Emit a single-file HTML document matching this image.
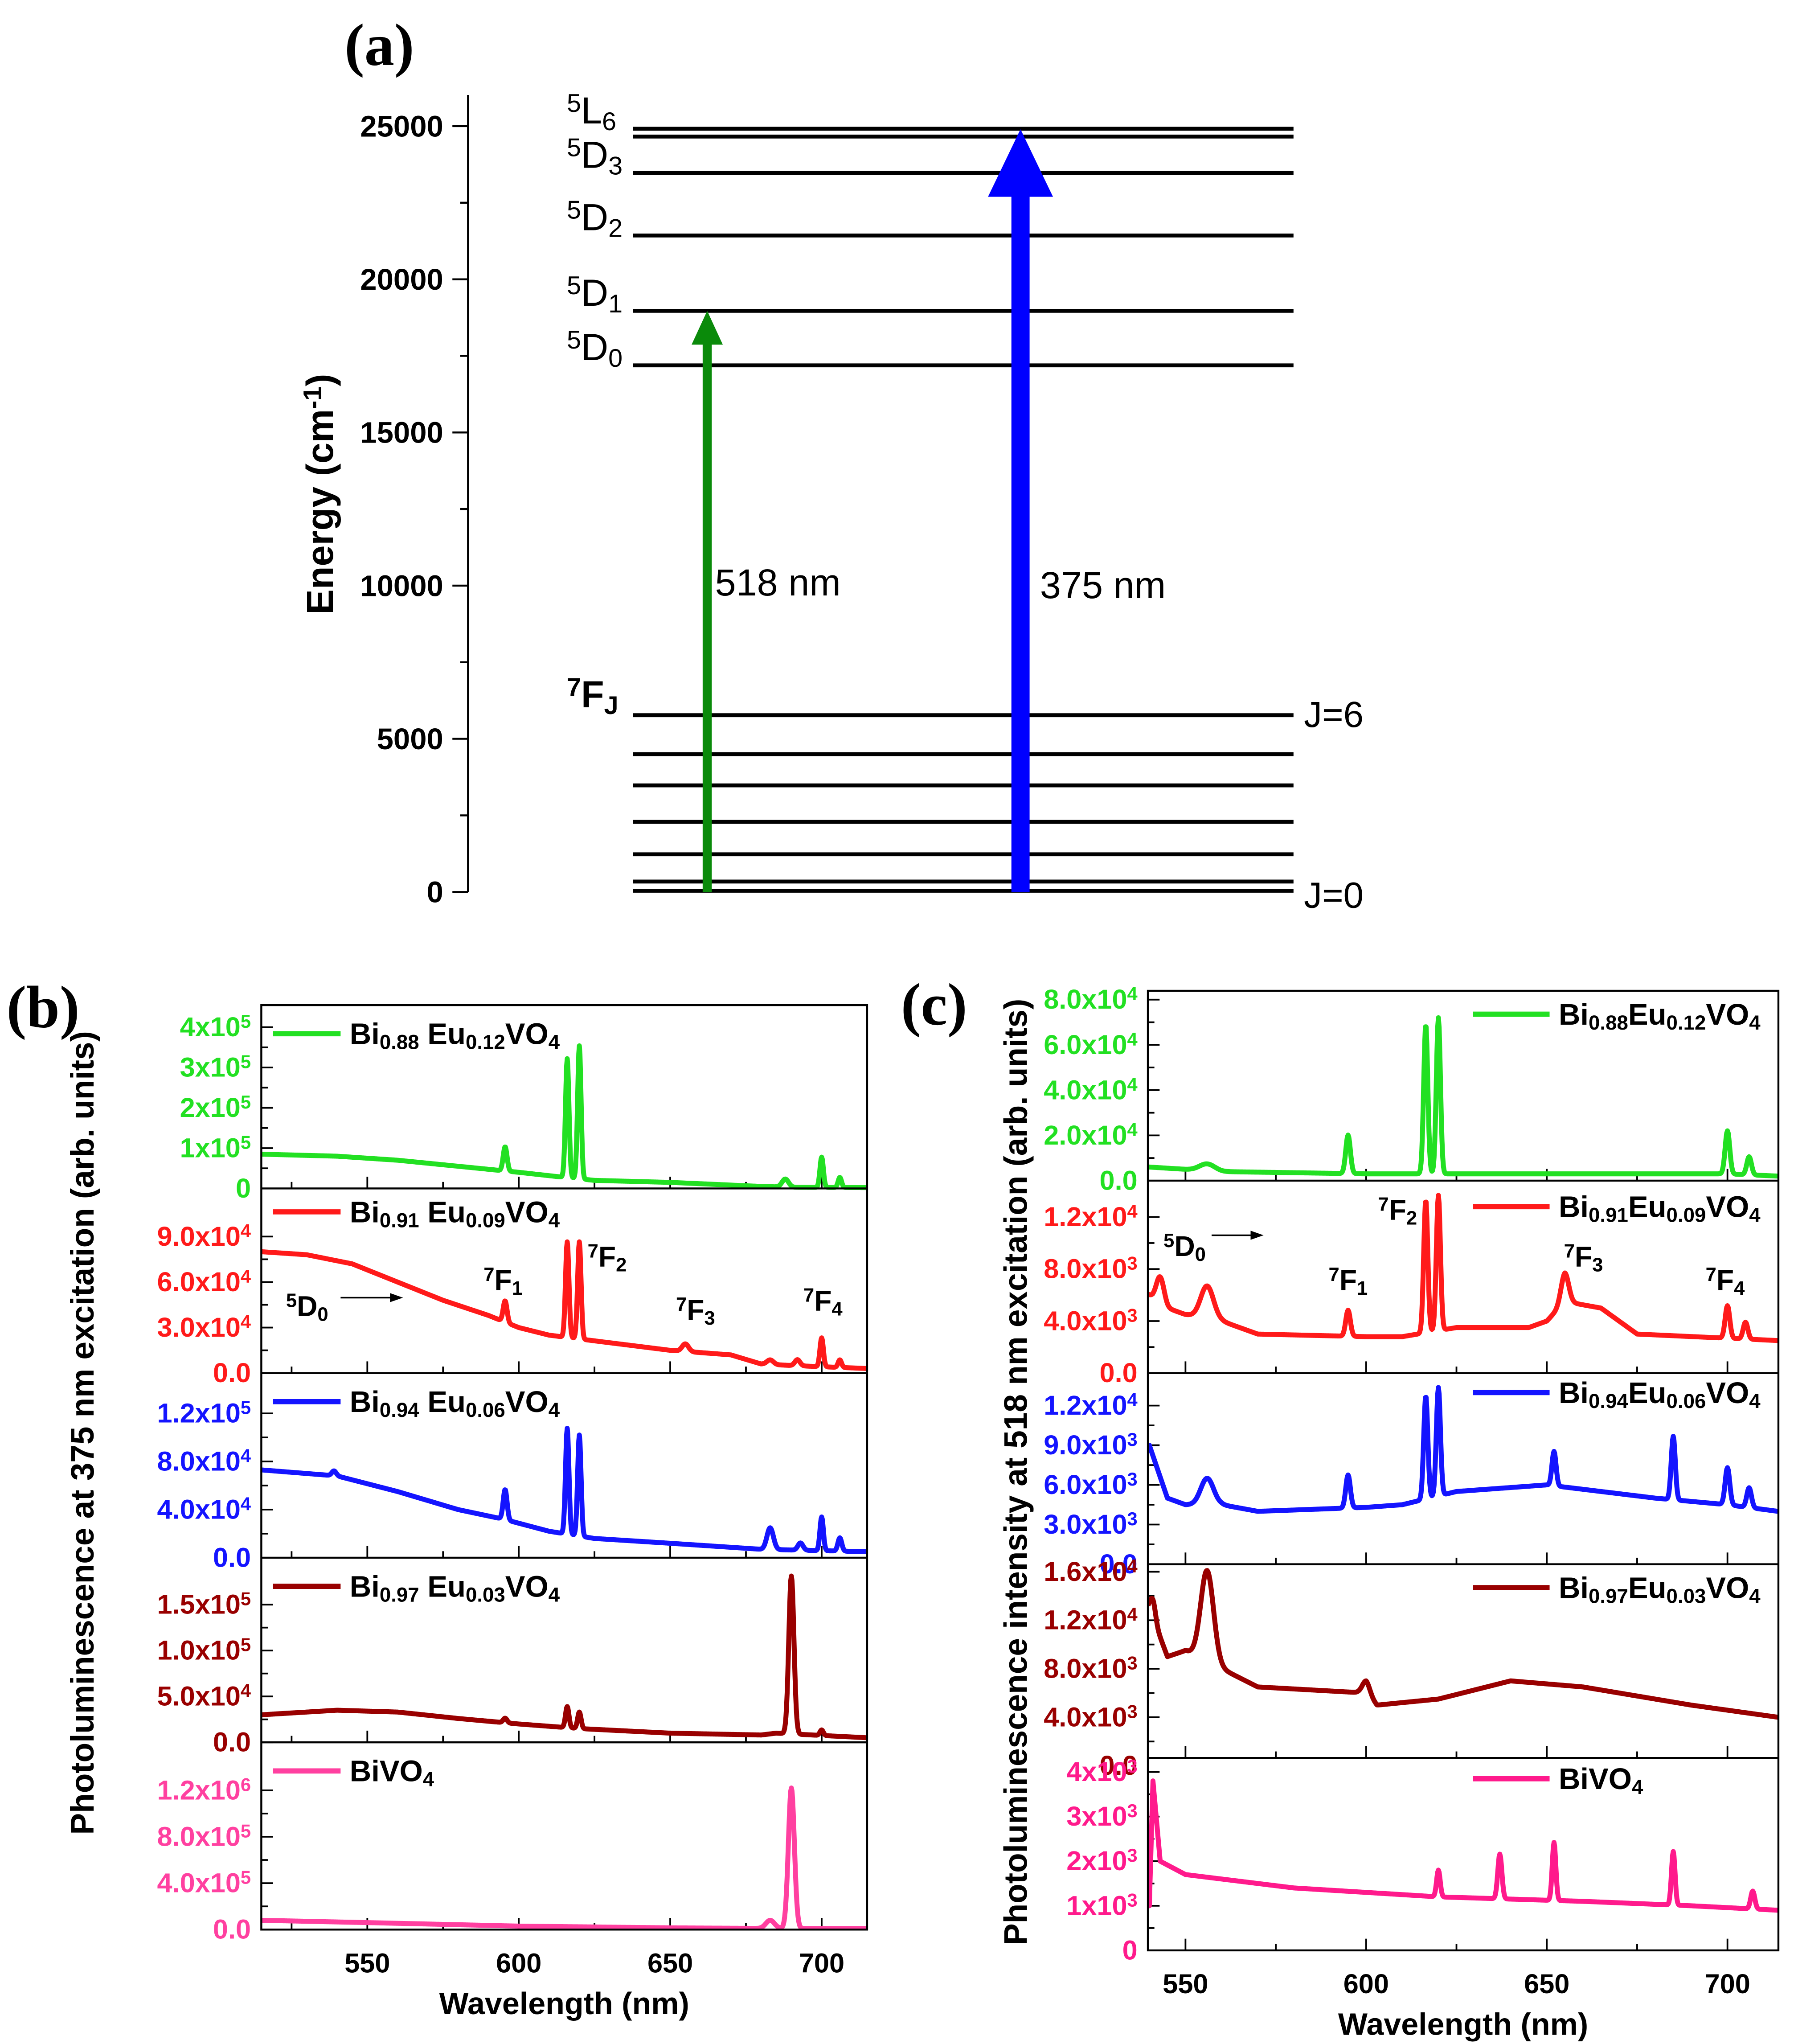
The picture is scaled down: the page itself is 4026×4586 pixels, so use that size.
<!DOCTYPE html>
<html><head><meta charset="utf-8"><style>
html,body{margin:0;padding:0;background:#fff}
svg{display:block}
text{font-family:"Liberation Sans",sans-serif}
</style></head><body>
<svg id="fig" xmlns="http://www.w3.org/2000/svg" width="4026" height="4586" viewBox="0 0 1380 1572" preserveAspectRatio="none">
<rect width="1380" height="1572" fill="#fff"/>
<g id="pa"></g>
<g id="pb"></g>
<g id="pc"></g>
</svg>
<script>
// ---------- Panel (a) data ----------
const aTicks = [0, 5000, 10000, 15000, 20000, 25000];
const aUpperLevels = [24915, 24660, 23470, 21430, 18970, 17190];
const aUpperLabels = [["5","L","6"], null, ["5","D","3"], ["5","D","2"], ["5","D","1"], ["5","D","0"]];
const aLowerLevels = [5770, 4500, 3480, 2290, 1230, 340, 40];
const aGreenArrow = [0, 18970];
const aBlueArrow = [0, 24900];

// ---------- Panel (b) data (375 nm excitation) ----------
const bGreenBaseX = [515, 540, 560, 580, 600, 612, 625, 650, 680, 690, 715];
const bGreenBaseY = [85000, 80000, 70000, 55000, 40000, 30000, 20000, 15000, 5000, 3000, 2000];
const bGreenPeakC = [595.5, 616, 620, 688, 700, 706];
const bGreenPeakH = [60000, 295000, 330000, 20000, 75000, 25000];
const bGreenPeakW = [0.9, 0.8, 0.8, 1.5, 0.8, 0.8];

const bRedBaseX = [515, 530, 545, 560, 575, 590, 600, 610, 630, 650, 670, 680, 690, 715];
const bRedBaseY = [80000, 78000, 72000, 60000, 48000, 38000, 30000, 25000, 20000, 15000, 12000, 6000, 5000, 3000];
const bRedPeakC = [595.5, 616, 620, 655, 683, 692, 700, 706];
const bRedPeakH = [14000, 63000, 64000, 5000, 3000, 4000, 19000, 5000];
const bRedPeakW = [0.9, 0.8, 0.8, 1.5, 1.5, 1.2, 0.8, 0.8];

const bBlueBaseX = [515, 540, 560, 580, 595, 610, 625, 650, 680, 715];
const bBlueBaseY = [73000, 68000, 55000, 40000, 32000, 22000, 16000, 12000, 7000, 5000];
const bBluePeakC = [539, 595.5, 616, 620, 683, 693, 700, 706];
const bBluePeakH = [4000, 25000, 88000, 84000, 18000, 6000, 28000, 11000];
const bBluePeakW = [1, 0.9, 0.8, 0.8, 1.5, 1.2, 0.8, 0.9];

const bDarkBaseX = [515, 540, 560, 580, 600, 620, 650, 680, 685, 715];
const bDarkBaseY = [30000, 35000, 33000, 26000, 20000, 15000, 10000, 8000, 10000, 5000];
const bDarkPeakC = [595.5, 616, 620, 690, 700];
const bDarkPeakH = [5000, 23000, 18000, 172000, 6000];
const bDarkPeakW = [0.9, 0.8, 0.8, 1.2, 0.8];

const bPinkBaseX = [515, 550, 600, 650, 680, 715];
const bPinkBaseY = [80000, 60000, 30000, 15000, 10000, 10000];
const bPinkPeakC = [683, 690];
const bPinkPeakH = [70000, 1210000];
const bPinkPeakW = [2, 1.4];

// ---------- Panel (c) data (518 nm excitation) ----------
const cGreenBaseX = [540, 560, 600, 650, 700, 714];
const cGreenBaseY = [6000, 4000, 3000, 3000, 3000, 2000];
const cGreenPeakC = [556, 595, 616.5, 620, 700, 706];
const cGreenPeakH = [3000, 17000, 66000, 69000, 19000, 8000];
const cGreenPeakW = [3, 0.9, 0.8, 0.8, 0.9, 0.9];

const cRedBaseX = [540, 545, 550, 560, 570, 600, 610, 625, 645, 650, 655, 665, 675, 714];
const cRedBaseY = [6000, 5000, 4500, 4000, 3000, 2800, 2800, 3500, 3500, 4000, 5500, 5000, 3000, 2500];
const cRedPeakC = [543, 556, 595, 616.5, 620, 655, 700, 705];
const cRedPeakH = [2000, 2500, 2000, 10200, 10400, 2200, 2500, 1300];
const cRedPeakW = [1.5, 2.5, 0.9, 0.8, 0.8, 1.5, 0.9, 0.9];

const cBlueBaseX = [540, 545, 550, 560, 570, 600, 610, 625, 650, 680, 700, 714];
const cBlueBaseY = [9000, 5000, 4500, 4500, 4000, 4300, 4500, 5500, 6000, 5000, 4500, 4000];
const cBluePeakC = [556, 595, 616.5, 620, 652, 685, 700, 706];
const cBluePeakH = [2000, 2500, 7800, 8200, 2600, 4800, 2800, 1500];
const cBluePeakW = [2.5, 0.9, 0.8, 0.8, 0.8, 0.8, 0.9, 0.9];

const cDarkBaseX = [540, 545, 550, 560, 570, 600, 603, 620, 640, 660, 690, 714];
const cDarkBaseY = [13000, 9000, 9500, 8000, 6500, 6000, 5000, 5500, 7000, 6500, 5000, 4000];
const cDarkPeakC = [541, 556, 600];
const cDarkPeakH = [1500, 7500, 1000];
const cDarkPeakW = [1, 2.5, 1.5];

const cPinkBaseX = [540, 541, 543, 550, 580, 620, 660, 690, 714];
const cPinkBaseY = [1000, 3800, 2000, 1700, 1400, 1200, 1100, 1000, 900];
const cPinkPeakC = [620, 637, 652, 685, 707];
const cPinkPeakH = [600, 1000, 1300, 1200, 400];
const cPinkPeakW = [0.7, 0.8, 0.7, 0.7, 0.8];

// ---------- helpers ----------
const NS = "http://www.w3.org/2000/svg";
function mk(parent, tag, attrs) {
  const e = document.createElementNS(NS, tag);
  for (const k in attrs) e.setAttribute(k, attrs[k]);
  parent.appendChild(e);
  return e;
}
function interp(xs, ys, x) {
  if (x <= xs[0]) return ys[0];
  for (let i = 1; i < xs.length; i++) {
    if (x <= xs[i]) { const t = (x - xs[i-1]) / (xs[i] - xs[i-1]); return ys[i-1] + t * (ys[i] - ys[i-1]); }
  }
  return ys[ys.length - 1];
}
function spectrum(bx, by, pc, ph, pw, x) {
  let v = interp(bx, by, x);
  for (let i = 0; i < pc.length; i++) v += ph[i] * Math.exp(-Math.pow((x - pc[i]) / pw[i], 2));
  return v;
}
function rich(parent, x, y, parts, size, fill, anchor) {
  const t = mk(parent, "text", {x: x, y: y, "font-size": size, "font-weight": "bold", fill: fill, "text-anchor": anchor || "start"});
  parts.forEach(p => {
    const s = mk(t, "tspan", {});
    if (p[1] === "sub") { s.setAttribute("font-size", size * 0.68); s.setAttribute("baseline-shift", "-25%"); }
    if (p[1] === "sup") { s.setAttribute("font-size", size * 0.68); s.setAttribute("baseline-shift", "45%"); }
    s.textContent = p[0];
  });
  return t;
}

// ---------- Panel (a) ----------
(function () {
  const g = document.getElementById("pa");
  const ey = E => 686 - E * (589 / 25000);
  const lab = mk(g, "text", {x: 265, y: 50, "font-size": 46, "font-weight": "bold", fill: "#000", style: "font-family:'Liberation Serif',serif"});
  
  
  lab.textContent = "(a)";
  const ax = mk(g, "line", {x1: 360, y1: 73, x2: 360, y2: 686, stroke: "#000", "stroke-width": 1.5});
  
  
  aTicks.forEach((v, i) => {
    const y = ey(v);
    mk(g, "line", {x1: 348, y1: y, x2: 360, y2: y, stroke: "#000", "stroke-width": 1.5});
    if (i < aTicks.length - 1) { const ym = ey(v + 2500); mk(g, "line", {x1: 354, y1: ym, x2: 360, y2: ym, stroke: "#000", "stroke-width": 1.5}); }
    const t = mk(g, "text", {x: 341, y: y + 8, "font-size": 23, "font-weight": "bold", "text-anchor": "end", fill: "#000"});
    
    
    t.textContent = String(v);
  });
  const yt = rich(g, 0, 0, [["Energy (cm", "n"], ["-1", "sup"], [")", "n"]], 29, "#000", "middle");
  yt.setAttribute("transform", "translate(256,380) rotate(-90)");
  
  
  aUpperLevels.forEach((E, i) => {
    const y = ey(E);
    const l = mk(g, "line", {x1: 487, y1: y, x2: 995, y2: y, stroke: "#000", "stroke-width": 3});
    
    
    const L = aUpperLabels[i];
    if (L) {
      const t = rich(g, 436, y - 4, [[L[0], "sup"], [L[1], "n"], [L[2], "sub"]], 29, "#000");
      t.setAttribute("font-weight", "normal");
      
      
    }
  });
  aLowerLevels.forEach(E => {
    const y = ey(E);
    const l = mk(g, "line", {x1: 487, y1: y, x2: 995, y2: y, stroke: "#000", "stroke-width": 3});
    
    
  });
  const fj = rich(g, 436, ey(aLowerLevels[0]) - 6, [["7", "sup"], ["F", "n"], ["J", "sub"]], 29, "#000");
  
  
  const j6 = mk(g, "text", {x: 1003, y: ey(aLowerLevels[0]) + 9, "font-size": 28, fill: "#000"});
    j6.textContent = "J=6";
  const j0 = mk(g, "text", {x: 1003, y: ey(0) + 12, "font-size": 28, fill: "#000"});
    j0.textContent = "J=0";
  const gy0 = ey(aGreenArrow[0]), gy1 = ey(aGreenArrow[1]);
  const ga = mk(g, "g", {});
   
  mk(ga, "rect", {x: 540.5, y: gy1 + 22, width: 7, height: gy0 - gy1 - 22, fill: "#0a8a0a"});
  mk(ga, "polygon", {points: `532,${gy1 + 26} 556,${gy1 + 26} 544,${gy1}`, fill: "#0a8a0a"});
  const gt = mk(g, "text", {x: 550, y: 458, "font-size": 29, fill: "#000"});
    gt.textContent = "518 nm";
  const by0 = ey(aBlueArrow[0]), by1 = ey(aBlueArrow[1]);
  const ba = mk(g, "g", {});
   
  mk(ba, "rect", {x: 778, y: by1 + 45, width: 14, height: by0 - by1 - 45, fill: "#0000ff"});
  mk(ba, "polygon", {points: `760,${by1 + 52} 810,${by1 + 52} 785,${by1}`, fill: "#0000ff"});
  const bt = mk(g, "text", {x: 800, y: 460, "font-size": 29, fill: "#000"});
    bt.textContent = "375 nm";
})();

function fmtParts(l) { return l[1] === null ? [[l[0], "n"]] : [[l[0] + "x10", "n"], [l[1], "sup"]]; }

function drawStack(gid, P) {
  const g = document.getElementById(gid);
  const X = w => P.x0 + (w - P.wl0) / (P.wl1 - P.wl0) * (P.x1 - P.x0);
  const pl = mk(g, "text", {x: P.labX, y: P.labY, "font-size": 46, "font-weight": "bold", fill: "#000", style: "font-family:'Liberation Serif',serif"});
    pl.textContent = P.label;
  const clip = mk(g, "clipPath", {id: gid + "clip"});
  mk(clip, "rect", {x: P.x0, y: P.tops[0], width: P.x1 - P.x0, height: P.tops[P.tops.length - 1] - P.tops[0]});
  P.subs.forEach((S, k) => {
    const top = P.tops[k], bot = P.tops[k + 1];
    const sg = mk(g, "g", {});
    
    
    const Y = v => S.y0 - v * S.scale;
    for (let w = Math.ceil(P.wl0 / 25) * 25; w <= P.wl1; w += 25) {
      const len = (w % 50 === 0) ? 9 : 5;
      mk(sg, "line", {x1: X(w), y1: bot, x2: X(w), y2: bot - len, stroke: "#000", "stroke-width": 1.3});
    }
    S.ticks.forEach((v, i) => {
      const y = Y(v);
      if (y >= top - 1 && y <= bot + 1) mk(sg, "line", {x1: P.x0, y1: y, x2: P.x0 + 9, y2: y, stroke: "#000", "stroke-width": 1.3});
      if (i < S.ticks.length - 1) {
        const ym = Y((v + S.ticks[i + 1]) / 2);
        if (ym >= top && ym <= bot) mk(sg, "line", {x1: P.x0, y1: ym, x2: P.x0 + 5, y2: ym, stroke: "#000", "stroke-width": 1.3});
      }
      const t = rich(sg, P.x0 - 8, y + 7, fmtParts(S.labels[i]), 21, S.color, "end");
      
      
    });
    let d = "";
    for (let w = P.wl0; w <= P.wl1; w += 0.2) {
      const v = spectrum(S.bx, S.by, S.pc, S.ph, S.pw, w);
      d += (d ? "L" : "M") + X(w).toFixed(2) + "," + Math.max(top + 1, Y(v)).toFixed(2);
    }
    const path = mk(sg, "path", {d: d, fill: "none", stroke: S.color, "stroke-width": 3.8, "stroke-linejoin": "round", "clip-path": `url(#${gid}clip)`});
    
    
    const lg = mk(sg, "g", {});
    
    
    mk(lg, "line", {x1: P.legX, y1: top + S.legDy, x2: P.legX + P.legLen, y2: top + S.legDy, stroke: S.color, "stroke-width": 4});
    rich(lg, P.legX + P.legLen + 7, top + S.legDy + 8, S.legend, 23, "#000");
    if (k > 0) mk(g, "line", {x1: P.x0, y1: top, x2: P.x1, y2: top, stroke: "#000", "stroke-width": 1.5});
  });
  const fr = mk(g, "rect", {x: P.x0, y: P.tops[0], width: P.x1 - P.x0, height: P.tops[P.tops.length - 1] - P.tops[0], fill: "none", stroke: "#000", "stroke-width": 1.5});
   
  const bot = P.tops[P.tops.length - 1];
  P.xTicks.forEach(w => {
    const t = mk(g, "text", {x: X(w), y: bot + 33, "font-size": 21, "font-weight": "bold", "text-anchor": "middle", fill: "#000"});
      t.textContent = String(w);
  });
  const xt = mk(g, "text", {x: (P.x0 + P.x1) / 2, y: bot + 65, "font-size": 24, "font-weight": "bold", "text-anchor": "middle", fill: "#000"});
    xt.textContent = "Wavelength (nm)";
  const yt = mk(g, "text", {x: 0, y: 0, "font-size": 25, "font-weight": "bold", "text-anchor": "middle", fill: "#000", transform: `translate(${P.ytX},${P.ytY}) rotate(-90)`});
    yt.textContent = P.yTitle;
  P.ann.forEach(a => {
    const t = rich(g, a[0], a[1], [[a[2], "sup"], [a[3], "n"], [a[4], "sub"]], 22, "#000");
    
    
  });
  const ar = P.arrow;
  const al = mk(g, "g", {});
   
  mk(al, "line", {x1: ar[0], y1: ar[2], x2: ar[1] - 8, y2: ar[2], stroke: "#000", "stroke-width": 1.2});
  mk(al, "polygon", {points: `${ar[1]},${ar[2]} ${ar[1] - 10},${ar[2] - 3.5} ${ar[1] - 10},${ar[2] + 3.5}`, fill: "#000"});
}

const leg = (a, b) => [["Bi", "n"], [a, "sub"], [" Eu", "n"], [b, "sub"], ["VO", "n"], ["4", "sub"]];
const legc = (a, b) => [["Bi", "n"], [a, "sub"], ["Eu", "n"], [b, "sub"], ["VO", "n"], ["4", "sub"]];

drawStack("pb", {
  label: "(b)", labX: 5, labY: 790,
  x0: 201, x1: 667, wl0: 515, wl1: 715, tops: [773, 914, 1056, 1198, 1340, 1484],
  xTicks: [550, 600, 650, 700], legX: 210, legLen: 52,
  ytX: 72, ytY: 1102, yTitle: "Photoluminescence at 375 nm excitation (arb. units)",
  arrow: [262, 310, 998],
  ann: [[220, 1012, "5", "D", "0"], [372, 992, "7", "F", "1"], [452, 974, "7", "F", "2"], [520, 1015, "7", "F", "3"], [618, 1008, "7", "F", "4"]],
  subs: [
    {name: "bi088-eu012", color: "#22e022", y0: 914, scale: 31 / 1e5, ticks: [0, 1e5, 2e5, 3e5, 4e5], labels: [["0", null], ["1", "5"], ["2", "5"], ["3", "5"], ["4", "5"]], bx: bGreenBaseX, by: bGreenBaseY, pc: bGreenPeakC, ph: bGreenPeakH, pw: bGreenPeakW, legend: leg("0.88", "0.12"), legDy: 22},
    {name: "bi091-eu009", color: "#ff1a1a", y0: 1056, scale: 35 / 3e4, ticks: [0, 3e4, 6e4, 9e4], labels: [["0.0", null], ["3.0", "4"], ["6.0", "4"], ["9.0", "4"]], bx: bRedBaseX, by: bRedBaseY, pc: bRedPeakC, ph: bRedPeakH, pw: bRedPeakW, legend: leg("0.91", "0.09"), legDy: 18},
    {name: "bi094-eu006", color: "#1414ff", y0: 1198, scale: 37 / 4e4, ticks: [0, 4e4, 8e4, 1.2e5], labels: [["0.0", null], ["4.0", "4"], ["8.0", "4"], ["1.2", "5"]], bx: bBlueBaseX, by: bBlueBaseY, pc: bBluePeakC, ph: bBluePeakH, pw: bBluePeakW, legend: leg("0.94", "0.06"), legDy: 22},
    {name: "bi097-eu003", color: "#990000", y0: 1340, scale: 35.3 / 5e4, ticks: [0, 5e4, 1e5, 1.5e5], labels: [["0.0", null], ["5.0", "4"], ["1.0", "5"], ["1.5", "5"]], bx: bDarkBaseX, by: bDarkBaseY, pc: bDarkPeakC, ph: bDarkPeakH, pw: bDarkPeakW, legend: leg("0.97", "0.03"), legDy: 22},
    {name: "bivo4", color: "#ff40a0", y0: 1484, scale: 35.7 / 4e5, ticks: [0, 4e5, 8e5, 1.2e6], labels: [["0.0", null], ["4.0", "5"], ["8.0", "5"], ["1.2", "6"]], bx: bPinkBaseX, by: bPinkBaseY, pc: bPinkPeakC, ph: bPinkPeakH, pw: bPinkPeakW, legend: [["BiVO", "n"], ["4", "sub"]], legDy: 22}
  ]
});

drawStack("pc", {
  label: "(c)", labX: 693, labY: 788,
  x0: 883, x1: 1368, wl0: 539.6, wl1: 714.1, tops: [762, 908, 1056, 1203, 1352, 1500],
  xTicks: [550, 600, 650, 700], legX: 1133, legLen: 59,
  ytX: 790, ytY: 1132, yTitle: "Photoluminescence intensity at 518 nm excitation (arb. units)",
  arrow: [932, 972, 950],
  ann: [[895, 966, "5", "D", "0"], [1022, 992, "7", "F", "1"], [1060, 938, "7", "F", "2"], [1203, 974, "7", "F", "3"], [1312, 992, "7", "F", "4"]],
  subs: [
    {name: "bi088-eu012", color: "#22e022", y0: 908, scale: 34.8 / 2e4, ticks: [0, 2e4, 4e4, 6e4, 8e4], labels: [["0.0", null], ["2.0", "4"], ["4.0", "4"], ["6.0", "4"], ["8.0", "4"]], bx: cGreenBaseX, by: cGreenBaseY, pc: cGreenPeakC, ph: cGreenPeakH, pw: cGreenPeakW, legend: legc("0.88", "0.12"), legDy: 18},
    {name: "bi091-eu009", color: "#ff1a1a", y0: 1056, scale: 40 / 4e3, ticks: [0, 4e3, 8e3, 1.2e4], labels: [["0.0", null], ["4.0", "3"], ["8.0", "3"], ["1.2", "4"]], bx: cRedBaseX, by: cRedBaseY, pc: cRedPeakC, ph: cRedPeakH, pw: cRedPeakW, legend: legc("0.91", "0.09"), legDy: 20},
    {name: "bi094-eu006", color: "#1414ff", y0: 1203, scale: 30.5 / 3e3, ticks: [0, 3e3, 6e3, 9e3, 1.2e4], labels: [["0.0", null], ["3.0", "3"], ["6.0", "3"], ["9.0", "3"], ["1.2", "4"]], bx: cBlueBaseX, by: cBlueBaseY, pc: cBluePeakC, ph: cBluePeakH, pw: cBluePeakW, legend: legc("0.94", "0.06"), legDy: 15},
    {name: "bi097-eu003", color: "#990000", y0: 1358, scale: 37.3 / 4e3, ticks: [0, 4e3, 8e3, 1.2e4, 1.6e4], labels: [["0.0", null], ["4.0", "3"], ["8.0", "3"], ["1.2", "4"], ["1.6", "4"]], bx: cDarkBaseX, by: cDarkBaseY, pc: cDarkPeakC, ph: cDarkPeakH, pw: cDarkPeakW, legend: legc("0.97", "0.03"), legDy: 18},
    {name: "bivo4", color: "#ff1a8c", y0: 1500, scale: 34.3 / 1e3, ticks: [0, 1e3, 2e3, 3e3, 4e3], labels: [["0", null], ["1", "3"], ["2", "3"], ["3", "3"], ["4", "3"]], bx: cPinkBaseX, by: cPinkBaseY, pc: cPinkPeakC, ph: cPinkPeakH, pw: cPinkPeakW, legend: [["BiVO", "n"], ["4", "sub"]], legDy: 16}
  ]
});
</script>
</body></html>
